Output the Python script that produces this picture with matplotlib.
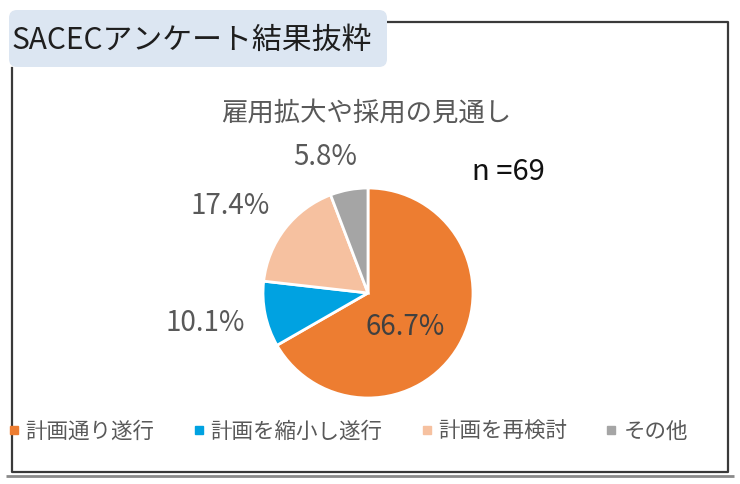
import matplotlib
matplotlib.use("Agg")
import matplotlib.pyplot as plt
import numpy as np
from matplotlib.patches import FancyBboxPatch
from matplotlib.lines import Line2D

plt.rcParams['font.family'] = ['Noto Sans CJK JP', 'DejaVu Sans']

header = "SACECアンケート結果抜粋"
chart_title = "雇用拡大や採用の見通し"
n_note = "n =69"
categories = ["計画通り遂行", "計画を縮小し遂行", "計画を再検討", "その他"]
values = [66.7, 10.1, 17.4, 5.8]
colors = ["#ED7D31", "#00A2E1", "#F6C1A0", "#A5A5A5"]
# label placement (radius fraction, angle offset in degrees from wedge middle)
label_dist = [0.48, 1.58, 1.55, 1.36]
label_dang = [-12.5, -1.3, 5.6, 7.1]

W, H = 740, 484
fig = plt.figure(figsize=(W / 100, H / 100), dpi=100)
fig.patch.set_facecolor("white")

# overlay axes in pixel coordinates
ov = fig.add_axes([0, 0, 1, 1])
ov.set_xlim(0, W)
ov.set_ylim(H, 0)
ov.axis("off")

# frame
ov.plot([6, 734], [476, 476], color="#8a8a8a", lw=2.0, solid_capstyle="butt")
ov.plot([12, 12, 728, 728, 388], [68, 472, 472, 22, 22], color="#3a3a3a", lw=1.6)
# header box
box = FancyBboxPatch((9, 10), 378, 57, boxstyle="round,pad=0,rounding_size=8",
                     fc="#DCE6F2", ec="none", zorder=3)
ov.add_patch(box)
ov.text(12, 40, header, fontsize=21.5, color="#1e1e1e", va="center", ha="left", zorder=4)

ov.text(366, 113, chart_title, fontsize=19, color="#595959", ha="center", va="center")
ov.text(508, 172, n_note, fontsize=21, color="#111111", ha="center", va="center")

# pie axes: center (368, 293), radius 105
cx, cy, r = 368, 293, 105
ax = fig.add_axes([(cx - r) / W, (H - cy - r) / H, 2 * r / W, 2 * r / H])
wedges, _ = ax.pie(values, colors=colors, startangle=90, counterclock=False,
                   wedgeprops=dict(edgecolor="white", linewidth=2.0))
ax.set_xlim(-1, 1)
ax.set_ylim(-1, 1)
ax.set_aspect("equal")

for w, v, d, da in zip(wedges, values, label_dist, label_dang):
    ang = np.deg2rad((w.theta1 + w.theta2) / 2 + da)
    x, y = d * np.cos(ang), d * np.sin(ang)
    ax.text(x, y, f"{v:.1f}%", fontsize=20, color="#404040" if d < 1 else "#595959",
            ha="center", va="center", clip_on=False)

handles = [Line2D([0], [0], marker="s", linestyle="none", markersize=6,
                  markerfacecolor=c, markeredgecolor=c) for c in colors]
fig.legend(handles, categories, loc="center", bbox_to_anchor=(348 / W, 1 - 432 / H),
           ncol=4, frameon=False, fontsize=15.5, labelcolor="#595959",
           handlelength=0.5, handletextpad=0.3, columnspacing=1.8)

fig.savefig("out.png", dpi=100)
